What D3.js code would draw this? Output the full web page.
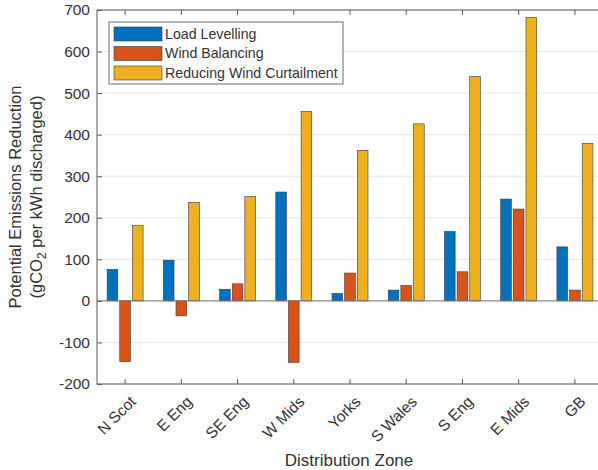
<!DOCTYPE html>
<html><head><meta charset="utf-8">
<script src="https://cdn.jsdelivr.net/npm/d3@7"></script>
<style>body{margin:0;background:#fff;} svg{display:block;font-family:"Liberation Sans",Arial,sans-serif;}</style>
</head><body>
<svg id="c" width="598" height="470"></svg>
<script>
const zones = ["N Scot","E Eng","SE Eng","W Mids","Yorks","S Wales","S Eng","E Mids","GB"];
const seriesNames = ["Load Levelling","Wind Balancing","Reducing Wind Curtailment"];
const loadLevelling = [76, 98, 28, 262, 18, 26, 167, 245, 130];
const windBalancing = [-146, -36, 41, -148, 67, 37, 70, 221, 26];
const windCurtailment = [181, 237, 251, 456, 362, 426, 540, 682, 379];
const yTicks = [-200,-100,0,100,200,300,400,500,600,700];
const colors = ["#0072BD","#D95319","#EDB120"];
const series = [loadLevelling, windBalancing, windCurtailment];

const svg = d3.select("#c");
const L = 97, R = 603, T = 10, B = 384;
const x = d3.scaleBand().domain(zones).range([L, R]).paddingInner(0).paddingOuter(0);
const y = d3.scaleLinear().domain([-200, 700]).range([B, T]);
const axisCol = "#5a5a5a", textCol = "#333";

// grid
svg.append("g").selectAll("line").data(yTicks).join("line")
  .attr("x1", L).attr("x2", R).attr("y1", d => y(d)).attr("y2", d => y(d))
  .attr("stroke", "#e6e6e6").attr("stroke-width", 1);

// bars
const bw = x.bandwidth() * 0.19, off = x.bandwidth() * 0.225;
series.forEach((s, i) => {
  svg.append("g").selectAll("rect").data(s).join("rect")
    .attr("x", (d, j) => x(zones[j]) + x.bandwidth()/2 + (i-1)*off - bw/2)
    .attr("width", bw)
    .attr("y", d => y(Math.max(0, d)))
    .attr("height", d => Math.abs(y(d) - y(0)))
    .attr("fill", colors[i]).attr("stroke", "#3a3a3a").attr("stroke-width", 0.6);
});

// baseline
svg.append("line").attr("x1", L).attr("x2", R).attr("y1", y(0)).attr("y2", y(0))
  .attr("stroke", "#777").attr("stroke-width", 1);

// box
svg.append("rect").attr("x", L).attr("y", T).attr("width", R-L).attr("height", B-T)
  .attr("fill", "none").attr("stroke", axisCol).attr("stroke-width", 1);

// axes
const ya = svg.append("g").attr("transform", `translate(${L},0)`)
  .call(d3.axisLeft(y).tickValues(yTicks).tickSize(-5).tickPadding(7).tickFormat(d => String(d)));
ya.select(".domain").remove();
ya.selectAll("line").attr("stroke", axisCol);
ya.selectAll("text").attr("font-size", 15.5).attr("fill", textCol);
const yr = svg.append("g").attr("transform", `translate(${R},0)`)
  .call(d3.axisRight(y).tickValues(yTicks).tickSize(-5).tickFormat(""));
yr.select(".domain").remove(); yr.selectAll("line").attr("stroke", axisCol);

const xa = svg.append("g").attr("transform", `translate(0,${B})`)
  .call(d3.axisBottom(x).tickSize(-5).tickFormat(""));
xa.select(".domain").remove(); xa.selectAll("line").attr("stroke", axisCol);
const xt = svg.append("g").attr("transform", `translate(0,${T})`)
  .call(d3.axisTop(x).tickSize(-5).tickFormat(""));
xt.select(".domain").remove(); xt.selectAll("line").attr("stroke", axisCol);

// x tick labels rotated
svg.append("g").selectAll("text").data(zones).join("text")
  .attr("transform", d => `translate(${x(d) + x.bandwidth()/2 + 4},${B + 11}) rotate(-45)`)
  .attr("text-anchor", "end").attr("dy", "0.7em")
  .attr("font-size", 15.5).attr("fill", textCol).text(d => d);

// axis titles
svg.append("text").attr("x", 349).attr("y", 466).attr("text-anchor", "middle")
  .attr("font-size", 17).attr("fill", textCol).text("Distribution Zone");
const yt = svg.append("g").attr("transform", `translate(0,${(T+B)/2}) rotate(-90)`);
yt.append("text").attr("x", 0).attr("y", 21).attr("text-anchor", "middle")
  .attr("font-size", 16.5).attr("fill", textCol).text("Potential Emissions Reduction");
const t2 = yt.append("text").attr("x", 0).attr("y", 42).attr("text-anchor", "middle")
  .attr("font-size", 16.5).attr("fill", textCol);
t2.append("tspan").text("(gCO");
t2.append("tspan").attr("font-size", 12).attr("dy", 4).text("2");
t2.append("tspan").attr("dy", -4).text(" per kWh discharged)");

// legend
const lg = svg.append("g");
lg.append("rect").attr("x", 109).attr("y", 22).attr("width", 234).attr("height", 62)
  .attr("fill", "#fff").attr("stroke", "#444").attr("stroke-width", 0.8);
seriesNames.forEach((n, i) => {
  const cy = 34 + i * 19.5;
  lg.append("rect").attr("x", 114).attr("y", cy - 7).attr("width", 48).attr("height", 14)
    .attr("fill", colors[i]).attr("stroke", "#3a3a3a").attr("stroke-width", 0.6);
  lg.append("text").attr("x", 165).attr("y", cy).attr("dy", "0.35em")
    .attr("font-size", 14.2).attr("fill", textCol).text(n);
});
</script>
</body></html>
